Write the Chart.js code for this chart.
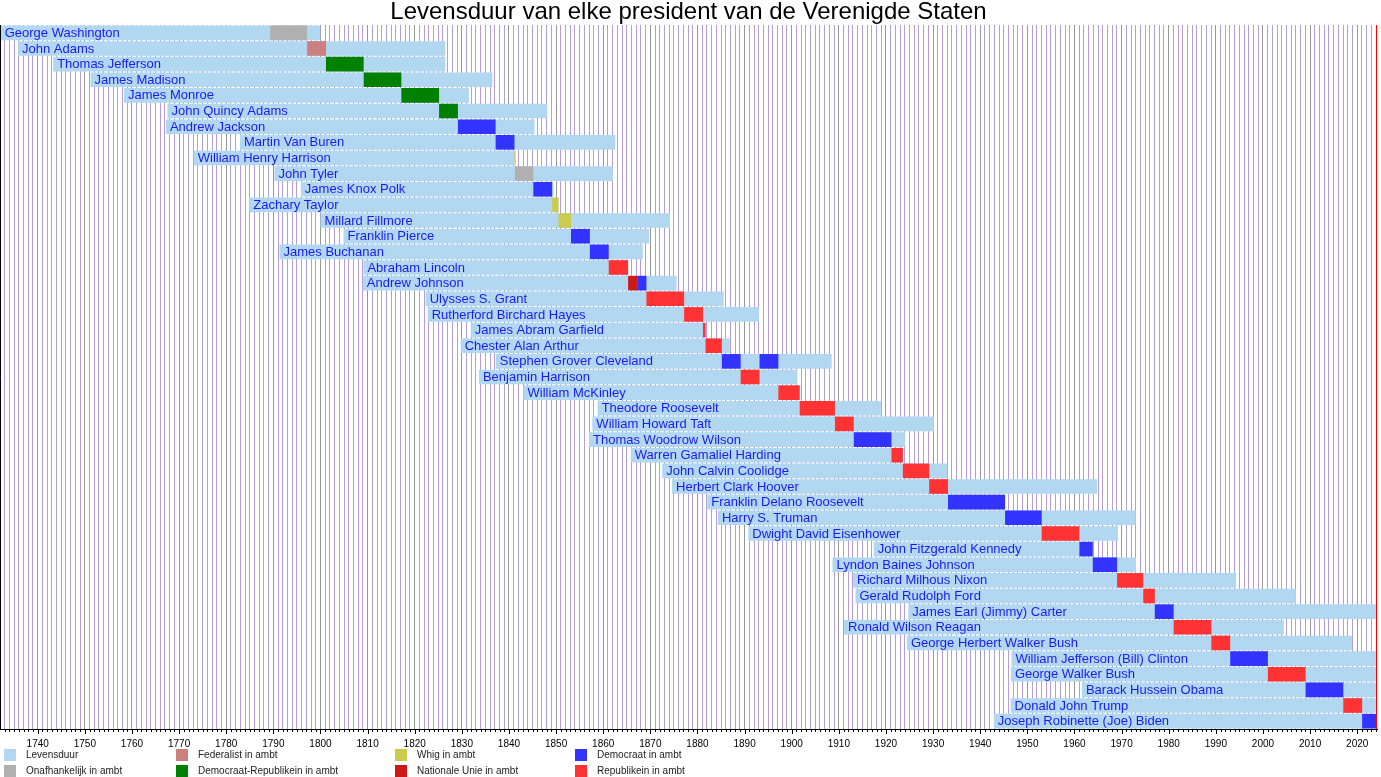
<!DOCTYPE html>
<html><head><meta charset="utf-8">
<script src="https://cdn.jsdelivr.net/npm/chart.js@4.4.1/dist/chart.umd.min.js"></script>
<style>
html,body{margin:0;padding:0;background:#fff;overflow:hidden}
#wrap{position:relative;width:1381px;height:777px}
#legend{position:absolute;left:0;top:0;width:1381px;height:777px;pointer-events:none;font-family:"Liberation Sans",Arial,sans-serif;font-size:10px;color:#222}
.lt{position:absolute;height:12px;line-height:12px;white-space:nowrap}
.sw{position:absolute;width:12px;height:12px}
</style></head><body>
<div id="wrap"><canvas id="c" width="1381" height="777"></canvas><div id="legend"></div></div>
<script>
const NOW = 2024.2;
const X_MIN = 1732;
const presidents = ["George Washington","John Adams","Thomas Jefferson","James Madison","James Monroe","John Quincy Adams","Andrew Jackson","Martin Van Buren","William Henry Harrison","John Tyler","James Knox Polk","Zachary Taylor","Millard Fillmore","Franklin Pierce","James Buchanan","Abraham Lincoln","Andrew Johnson","Ulysses S. Grant","Rutherford Birchard Hayes","James Abram Garfield","Chester Alan Arthur","Stephen Grover Cleveland","Benjamin Harrison","William McKinley","Theodore Roosevelt","William Howard Taft","Thomas Woodrow Wilson","Warren Gamaliel Harding","John Calvin Coolidge","Herbert Clark Hoover","Franklin Delano Roosevelt","Harry S. Truman","Dwight David Eisenhower","John Fitzgerald Kennedy","Lyndon Baines Johnson","Richard Milhous Nixon","Gerald Rudolph Ford","James Earl (Jimmy) Carter","Ronald Wilson Reagan","George Herbert Walker Bush","William Jefferson (Bill) Clinton","George Walker Bush","Barack Hussein Obama","Donald John Trump","Joseph Robinette (Joe) Biden"];
const born = [1732.14,1735.83,1743.28,1751.21,1758.32,1767.53,1767.2,1782.93,1773.11,1790.24,1795.84,1784.9,1800.02,1804.89,1791.31,1809.12,1808.99,1822.32,1822.76,1831.88,1829.76,1837.21,1833.63,1843.08,1858.82,1857.7,1856.99,1865.84,1872.51,1874.61,1882.08,1884.35,1890.79,1917.41,1908.65,1913.02,1913.53,1924.75,1911.1,1924.45,1946.63,1946.51,1961.59,1946.45,1942.89];
const died = [1799.96,1826.51,1826.51,1836.49,1831.51,1848.15,1845.44,1862.56,1841.26,1862.05,1849.45,1850.52,1874.18,1869.77,1868.41,1865.29,1875.58,1885.56,1893.05,1881.72,1886.88,1908.48,1901.2,1901.7,1919.01,1930.18,1924.09,1923.59,1933.01,1964.8,1945.28,1972.98,1969.24,1963.89,1973.06,1994.3,2006.98,null,2004.43,2018.91,null,null,null,null,null];
const termStart = [1789.33,1797.17,1801.17,1809.17,1817.17,1825.17,1829.17,1837.17,1841.17,1841.26,1845.17,1849.17,1850.52,1853.17,1857.17,1861.17,1865.29,1869.17,1877.17,1881.17,1881.72,1885.17,1889.17,1897.17,1901.7,1909.17,1913.17,1921.17,1923.59,1929.17,1933.17,1945.28,1953.05,1961.05,1963.89,1969.05,1974.6,1977.05,1981.05,1989.05,1993.05,2001.05,2009.05,2017.05,2021.05];
const termEnd = [1797.17,1801.17,1809.17,1817.17,1825.17,1829.17,1837.17,1841.17,1841.26,1845.17,1849.17,1850.52,1853.17,1857.17,1861.17,1865.29,1867.2,1877.17,1881.17,1881.72,1885.17,1889.17,1893.17,1901.7,1909.17,1913.17,1921.17,1923.59,1929.17,1933.17,1945.28,1953.05,1961.05,1963.89,1969.05,1974.6,1977.05,1981.05,1989.05,1993.05,2001.05,2009.05,2017.05,2021.05,null];
const termParty = ["O","F","DR","DR","DR","DR","D","D","W","O","D","W","W","D","D","R","NU","R","R","R","R","D","R","R","R","R","D","R","R","R","D","D","R","D","D","R","R","D","R","R","D","R","D","R","D"];
const extraRow = ["Andrew Johnson","Stephen Grover Cleveland"];
const extraStart = [1867.2,1893.17];
const extraEnd = [1869.17,1897.17];
const extraParty = ["D","D"];
const legendKeys = ["L","O","F","DR","W","NU","D","R"];
const legendLabels = ["Levensduur","Onafhankelijk in ambt","Federalist in ambt","Democraat-Republikein in ambt","Whig in ambt","Nationale Unie in ambt","Democraat in ambt","Republikein in ambt"];
const colors = {L:"#b2d8f1",O:"#b0b0b0",F:"#cc7f7f",DR:"#008000",W:"#cccc4c",NU:"#cc1a1a",D:"#3333ff",R:"#ff3333"};

const FONT = '"Liberation Sans", Arial, sans-serif';
const lifeData = presidents.map((n,i)=>[born[i], died[i]===null?NOW:died[i]]);
const termData = presidents.map((n,i)=>[termStart[i], termEnd[i]===null?NOW:termEnd[i]]);
const extraData = presidents.map(n=>{const k=extraRow.indexOf(n);return k<0?null:[extraStart[k],extraEnd[k]];});
const extraColor = presidents.map(n=>{const k=extraRow.indexOf(n);return k<0?null:colors[extraParty[k]];});

// legend (HTML)
const leg = document.getElementById('legend');
const colX = [4,176,395,575];
legendKeys.forEach((k,i)=>{
  const col = Math.floor(i/2), row = i%2;
  const top = 749 + row*16;
  const sw = document.createElement('div'); sw.className='sw';
  sw.style.left = colX[col]+'px'; sw.style.top = top+'px'; sw.style.background = colors[k];
  const t = document.createElement('div'); t.className='lt';
  t.style.left = (colX[col]+22)+'px'; t.style.top = top+'px'; t.textContent = legendLabels[i];
  leg.appendChild(sw); leg.appendChild(t);
});

const overlay = {
  id:'overlay',
  afterDatasetsDraw(chart){
    const {ctx, chartArea:a, scales:{x,y}} = chart;
    ctx.save();
    ctx.font = '13px ' + FONT;
    ctx.fillStyle = '#1a1aef';
    ctx.textBaseline = 'middle';
    presidents.forEach((n,i)=>{
      ctx.fillText(n, x.getPixelForValue(born[i]) + 4, y.getPixelForValue(i) + 0.5);
    });
    ctx.restore();
  },
  afterDraw(chart){
    const {ctx, chartArea:a, scales:{x}} = chart;
    ctx.save();
    ctx.strokeStyle = '#000'; ctx.lineWidth = 1;
    ctx.beginPath();
    for(let yr=1733; yr<=2024; yr++){
      const px = Math.round(x.getPixelForValue(yr)) + 0.5;
      ctx.moveTo(px, a.bottom); ctx.lineTo(px, a.bottom + (yr%10===0?5:3));
    }
    ctx.moveTo(0.5, a.top); ctx.lineTo(0.5, a.bottom + 1);
    ctx.stroke();
    ctx.strokeStyle = '#ff0000';
    ctx.beginPath();
    const rx = Math.round(x.getPixelForValue(NOW)) - 0.5;
    ctx.moveTo(rx, a.top); ctx.lineTo(rx, a.bottom);
    ctx.stroke();
    ctx.restore();
  }
};

new Chart(document.getElementById('c'), {
  type:'bar',
  data:{
    labels: presidents,
    datasets:[
      {label:'Ambt', data: termData, backgroundColor: termParty.map(p=>colors[p]), order:0, grouped:false, minBarLength:1.2},
      {label:'Ambt 2', data: extraData, backgroundColor: extraColor, order:0, grouped:false},
      {label:'Levensduur', data: lifeData, backgroundColor: colors.L, order:1, grouped:false}
    ]
  },
  options:{
    indexAxis:'y',
    responsive:false,
    animation:false,
    events:[],
    datasets:{bar:{barPercentage:0.935, categoryPercentage:1, borderWidth:0}},
    layout:{padding:{left:0,right:4,top:0,bottom:18}},
    plugins:{
      legend:{display:false},
      tooltip:{enabled:false},
      title:{display:true, text:'Levensduur van elke president van de Verenigde Staten', color:'#000',
        font:{family:FONT, size:24, weight:'normal', lineHeight:0.875}, padding:{top:2,bottom:2}}
    },
    scales:{
      x:{type:'linear', min:X_MIN, max:NOW, position:'bottom',
        afterBuildTicks:(s)=>{const t=[];for(let yr=X_MIN;yr<=2024;yr++)t.push({value:yr});s.ticks=t;},
        afterFit:(s)=>{s.paddingLeft=0; s.paddingRight=0;},
        ticks:{autoSkip:false, maxRotation:0, padding:9, color:'#000', font:{family:FONT,size:10},
          callback:(v)=> (v%10===0 && v>=1740) ? String(v) : ''},
        grid:{drawTicks:false, lineWidth:1, color:(c)=> (c.tick && c.tick.value%10===0) ? '#979797' : '#b59ed8'},
        border:{display:true, color:'#000', width:1}
      },
      y:{type:'category', display:false}
    }
  },
  plugins:[overlay]
});
</script>
</body></html>
